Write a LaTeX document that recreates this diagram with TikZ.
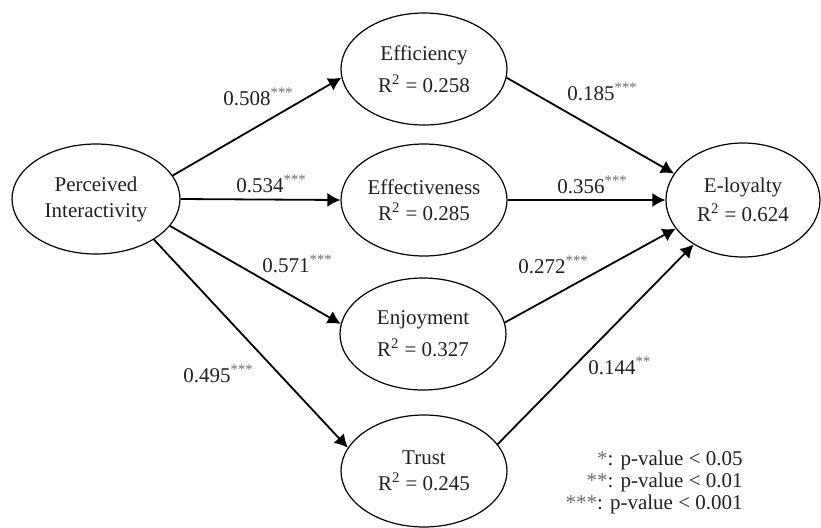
\documentclass[tikz,border=0pt]{standalone}
\usepackage{fontspec}
\setmainfont{Liberation Serif}
\usetikzlibrary{shapes.geometric}
\usetikzlibrary{arrows.meta}

\definecolor{inkgray}{HTML}{231F20}
\definecolor{stargray}{HTML}{6A6A6A}
\newcommand{\sig}[1]{\textsuperscript{\color{stargray}#1}}

\begin{document}
\begin{tikzpicture}[x=0.5pt,y=-0.5pt,font=\fontsize{10.5}{13}\selectfont,
  construct/.style={ellipse,draw,line width=0.6pt,minimum width=83pt,
    minimum height=56pt,inner sep=0pt,align=center,text=inkgray},
  link/.style={draw,line width=0.9pt,-{Latex[length=6.5pt,width=7pt]}},
  coef/.style={anchor=base west,inner sep=0pt,text=inkgray},
  legend/.style={anchor=base east,inner sep=0pt,text=inkgray}]
\useasboundingbox (0,0) rectangle (821,527);

% constructs
\node[construct,minimum width=84pt,minimum height=55pt] (pi) at (96,199)
  {Perceived\\Interactivity};
\node[construct] (eff) at (424,69) {Efficiency\\[3pt]R\textsuperscript{2} = 0.258};
\node[construct] (efv) at (424,200) {Effectiveness\\R\textsuperscript{2} = 0.285};
\node[construct] (enj) at (423,334) {Enjoyment\\[3pt]R\textsuperscript{2} = 0.327};
\node[construct] (tru) at (424,471) {Trust\\R\textsuperscript{2} = 0.245};
\node[construct,minimum width=77pt,minimum height=57pt] (loy) at (743,200)
  {E-loyalty\\[1.5pt]R\textsuperscript{2} = 0.624};

% paths from perceived interactivity
\draw[link] (pi.17) -- (eff.186);
\draw[link] (pi.east) -- (efv.west);
\draw[link] (pi.-20) -- (enj.173);
\draw[link] (pi.-35) -- (tru.163);

% paths to e-loyalty
\draw[link] (eff.-6) -- (loy.159);
\draw[link] (efv.east) -- (loy.west);
\draw[link] (enj.8) -- (loy.203);
\draw[link] (tru.20) -- (loy.222);

% path coefficients
\node[coef] (c1) at (223,105) {0.508\sig{***}};
\node[coef] (c2) at (236,192) {0.534\sig{***}};
\node[coef] (c3) at (262,272) {0.571\sig{***}};
\node[coef] (c4) at (183,382) {0.495\sig{***}};
\node[coef] (c5) at (567,100) {0.185\sig{***}};
\node[coef] (c6) at (557,193) {0.356\sig{***}};
\node[coef] (c7) at (518,273) {0.272\sig{***}};
\node[coef] (c8) at (588,374) {0.144\sig{**}};

% significance levels
\node[legend] (l1) at (743,465) {{\color{stargray}*}: p-value < 0.05};
\node[legend] (l2) at (743,487) {{\color{stargray}**}: p-value < 0.01};
\node[legend] (l3) at (743,509) {{\color{stargray}***}: p-value < 0.001};
\end{tikzpicture}
\end{document}
